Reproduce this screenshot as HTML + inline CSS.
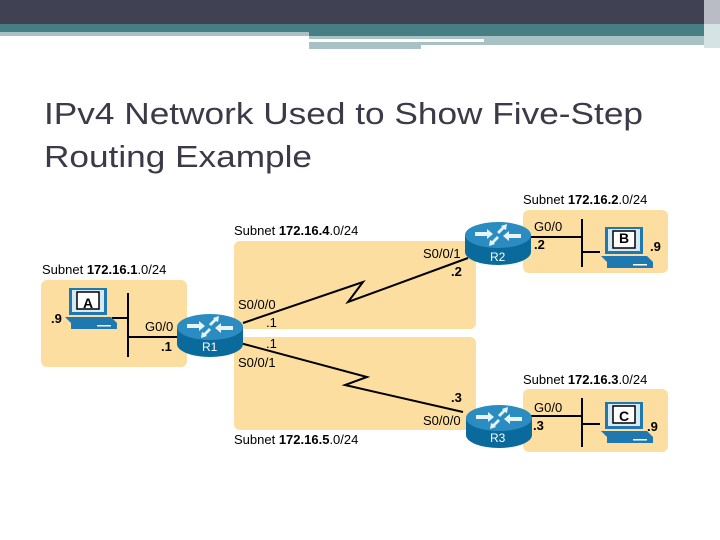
<!DOCTYPE html>
<html><head><meta charset="utf-8"><style>
html,body{margin:0;padding:0;background:#fff;width:720px;height:540px;overflow:hidden}
svg{display:block}
text{font-family:"Liberation Sans",sans-serif}
</style></head><body>
<svg width="720" height="540" viewBox="0 0 720 540">
<defs>
<g id="router">
  <path d="M0,13 L0,30 A33,13 0 0 0 66,30 L66,13 Z" fill="#0a6a9c"/>
  <ellipse cx="33" cy="13" rx="33" ry="13" fill="#2a8cc0"/>
  <path d="M10,10 l12,0 l0,-3 l6,5 l-6,5 l0,-3 l-12,0z" fill="#e8f3f8"/>
  <path d="M56,16 l-12,0 l0,3 l-6,-5 l6,-5 l0,3 l12,0z" fill="#e8f3f8"/>
  <path d="M36,4 l6,-2 l-1,6 l-2,-1 l-5,5 l-2,-2 l5,-5z" fill="#e8f3f8"/>
  <path d="M30,22 l-6,2 l1,-6 l2,1 l5,-5 l2,2 l-5,5z" fill="#e8f3f8"/>
</g>
<g id="pc">
  <rect x="0" y="0" width="38" height="27" fill="#1f78b0"/>
  <rect x="3" y="2" width="32" height="22" fill="#d6eaf5"/>
  <rect x="8" y="4" width="22" height="17" fill="#fff" stroke="#000" stroke-width="1.5"/>
  <path d="M-4,29 L42,29 L48,35 L2,35 Z" fill="#1f78b0"/>
  <rect x="2" y="35" width="46" height="6" fill="#1f78b0"/>
  <rect x="28" y="37" width="14" height="1.5" fill="#fff"/>
</g>
</defs>
<!-- header -->
<rect x="0" y="0" width="720" height="24" fill="#414154"/>
<rect x="0" y="24" width="720" height="8" fill="#477e83"/>
<rect x="309" y="32" width="395" height="4" fill="#477e83"/>
<rect x="0" y="32" width="309" height="4" fill="#a7c1c4"/>
<rect x="309" y="36" width="175" height="3" fill="#a7c1c4"/>
<rect x="309" y="42" width="112" height="7" fill="#a7c1c4"/>
<rect x="421" y="42" width="250" height="3" fill="#a7c1c4"/>
<rect x="484" y="36" width="220" height="9" fill="#a7c1c4"/>
<rect x="704" y="0" width="16" height="48" fill="#b9bcc4"/>
<rect x="704" y="24" width="16" height="24" fill="#d5e3e4"/>
<!-- title -->
<text x="44" y="124" font-size="31" fill="#3a3a48" textLength="599" lengthAdjust="spacingAndGlyphs">IPv4 Network Used to Show Five-Step</text>
<text x="44" y="167" font-size="31" fill="#3a3a48" textLength="268" lengthAdjust="spacingAndGlyphs">Routing Example</text>
<!-- subnet boxes -->
<g fill="#fbdea0">
<rect x="41" y="280" width="146" height="87" rx="6"/>
<rect x="234" y="241" width="242" height="88" rx="6"/>
<rect x="234" y="337" width="242" height="93" rx="6"/>
<rect x="523" y="210" width="145" height="63" rx="6"/>
<rect x="523" y="389" width="145" height="63" rx="6"/>
</g>
<!-- LAN lines -->
<g stroke="#000" stroke-width="2" fill="none">
<line x1="128" y1="293" x2="128" y2="357"/>
<line x1="112" y1="318" x2="128" y2="318"/>
<line x1="128" y1="337" x2="180" y2="337"/>
<line x1="582" y1="219" x2="582" y2="267"/>
<line x1="530" y1="237" x2="582" y2="237"/>
<line x1="582" y1="252" x2="600" y2="252"/>
<line x1="582" y1="398" x2="582" y2="447"/>
<line x1="530" y1="416" x2="582" y2="416"/>
<line x1="582" y1="424" x2="600" y2="424"/>
<polyline points="243,323 363,282 348,302 468,258"/>
<polyline points="240,343 367,377 345,385 463,412"/>
</g>
<use href="#pc" x="69" y="288"/>
<use href="#pc" x="605" y="227"/>
<use href="#pc" x="605" y="402"/>
<g font-size="14" font-weight="bold" text-anchor="middle">
<text x="88" y="308">A</text>
<text x="624" y="243">B</text>
<text x="624" y="421">C</text>
</g>
<use href="#router" x="177" y="314"/>
<use href="#router" x="465" y="222"/>
<use href="#router" x="466" y="405"/>
<g font-size="12" fill="#fff"><text x="202" y="351">R1</text><text x="490" y="261">R2</text><text x="490" y="442">R3</text></g>
<g font-size="13" fill="#000">
<text x="42" y="274">Subnet <tspan font-weight="bold">172.16.1</tspan>.0/24</text>
<text x="234" y="235">Subnet <tspan font-weight="bold">172.16.4</tspan>.0/24</text>
<text x="523" y="204">Subnet <tspan font-weight="bold">172.16.2</tspan>.0/24</text>
<text x="523" y="384">Subnet <tspan font-weight="bold">172.16.3</tspan>.0/24</text>
<text x="234" y="444">Subnet <tspan font-weight="bold">172.16.5</tspan>.0/24</text>
<text x="51" y="323" font-weight="bold">.9</text>
<text x="145" y="331">G0/0</text>
<text x="161" y="351" font-weight="bold">.1</text>
<text x="238" y="309">S0/0/0</text>
<text x="266" y="327">.1</text>
<text x="266" y="348">.1</text>
<text x="238" y="367">S0/0/1</text>
<text x="423" y="258">S0/0/1</text>
<text x="451" y="276" font-weight="bold">.2</text>
<text x="534" y="231">G0/0</text>
<text x="534" y="249" font-weight="bold">.2</text>
<text x="650" y="251" font-weight="bold">.9</text>
<text x="451" y="402" font-weight="bold">.3</text>
<text x="423" y="425">S0/0/0</text>
<text x="534" y="412">G0/0</text>
<text x="533" y="430" font-weight="bold">.3</text>
<text x="647" y="431" font-weight="bold">.9</text>
</g>
</svg>
</body></html>
